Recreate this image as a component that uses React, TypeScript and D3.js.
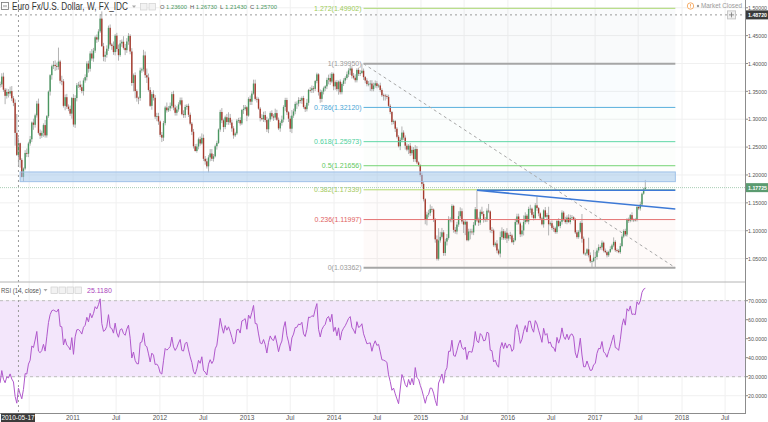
import React from 'react';
import * as d3 from 'd3';

// ---------- DATA ----------
// Weekly bars (Monday-dated). Closes coded as (price - 1) * 10000, grouped by year of the Friday close.
const FIRST_MONDAY = '2009-10-05';
const FIRST_OPEN = 1.469;

const close2009 = [4720, 4905, 5010, 4720, 4850, 4885, 4855, 4965, 4845, 4575, 4340, 4375];
const close2010 = [4320, 4410, 4385, 4140, 3865, 3680, 3625, 3615, 3625, 3625, 3765, 3530, 3420, 3490, 3460, 3505, 3375, 3295, 2755, 2360, 2570, 2270, 1965, 2115, 2395, 2380, 2565, 2640, 2940, 2900, 3070, 3280, 2755, 2705, 2755, 2895, 2710, 3055, 3495, 3790, 3950, 3975, 3955, 3940, 4035, 3690, 3680, 3240, 3395, 3225, 3185, 3100, 3380];
const close2011 = [2905, 3380, 3610, 3620, 3575, 3505, 3695, 3755, 4000, 3905, 4180, 4090, 4230, 4470, 4430, 4575, 4805, 4310, 4120, 4155, 4265, 4640, 4340, 4315, 4205, 4500, 4260, 4150, 4360, 4390, 4280, 4240, 4395, 4495, 4215, 3650, 3790, 3505, 3385, 3380, 3875, 3895, 4145, 3790, 3750, 3525, 3240, 3450, 3385, 3045, 3055, 2960];
const close2012 = [2720, 2670, 2930, 3210, 3160, 3195, 3240, 3450, 3210, 3115, 3175, 3265, 3340, 3090, 3075, 3220, 3240, 3080, 2920, 2775, 2515, 2430, 2510, 2640, 2565, 2665, 2290, 2245, 2155, 2315, 2385, 2290, 2335, 2515, 2575, 2815, 3130, 2980, 2860, 3035, 2950, 3025, 2940, 2835, 2710, 2745, 2975, 2985, 2925, 3165, 3185, 3215];
const close2013 = [3065, 3365, 3315, 3460, 3640, 3365, 3360, 3190, 3020, 3000, 3075, 2985, 2820, 2995, 3110, 3050, 3030, 3110, 2990, 2835, 2935, 2995, 3220, 3345, 3125, 3010, 2830, 3065, 3140, 3275, 3280, 3345, 3335, 3380, 3220, 3180, 3295, 3525, 3520, 3555, 3545, 3685, 3805, 3485, 3365, 3495, 3555, 3590, 3705, 3740, 3675, 3815];
const close2014 = [3590, 3665, 3540, 3675, 3485, 3635, 3695, 3740, 3805, 3875, 3910, 3780, 3745, 3700, 3885, 3815, 3830, 3870, 3755, 3695, 3630, 3635, 3640, 3540, 3605, 3645, 3595, 3605, 3525, 3430, 3425, 3415, 3400, 3240, 3130, 2950, 2965, 2830, 2685, 2515, 2630, 2760, 2670, 2525, 2455, 2525, 2390, 2450, 2285, 2465, 2225, 2180];
const close2015 = [2000, 1840, 1565, 1205, 1290, 1315, 1390, 1380, 1195, 845, 495, 825, 890, 970, 600, 805, 870, 1200, 1200, 1445, 1015, 985, 1110, 1260, 1350, 1165, 1110, 1160, 830, 985, 985, 970, 1105, 1385, 1185, 1145, 1340, 1300, 1195, 1205, 1360, 1345, 1015, 1005, 740, 770, 645, 590, 885, 990, 865, 965];
const close2016 = [860, 920, 915, 795, 830, 1155, 1255, 1130, 935, 1005, 1155, 1270, 1165, 1390, 1395, 1285, 1225, 1455, 1405, 1310, 1220, 1115, 1365, 1250, 1280, 1115, 1135, 1050, 1040, 975, 1175, 1085, 1160, 1325, 1200, 1155, 1235, 1155, 1225, 1240, 1200, 970, 885, 980, 1140, 855, 590, 590, 665, 560, 450, 455, 515];
const close2017 = [530, 645, 705, 700, 785, 640, 615, 560, 620, 670, 735, 800, 650, 640, 615, 725, 895, 995, 930, 1205, 1180, 1280, 1195, 1200, 1195, 1425, 1400, 1470, 1665, 1750, 1772.5];

// Upper / lower wick lengths beyond the body, in units of 10 pips.
const up2009 = [6, 5, 3, 9, 4, 5, 6, 5, 7, 4, 5, 4];
const dn2009 = [5, 3, 6, 4, 8, 4, 5, 6, 5, 3, 4, 6];
const up2010 = [5, 6, 4, 3, 2, 6, 4, 5, 3, 5, 6, 7, 3, 6, 5, 8, 9, 4, 6, 34, 10.3, 1, 3, 2, 5, 8, 3, 6, 2, 7, 3, 5, 9, 6, 4, 3, 9, 2, 2, 2, 3, 7, 8, 6, 25, 3, 9, 4, 5, 6, 4, 6, 2];
const dn2010 = [6, 5, 3, 2, 4, 4, 18, 5, 10, 6, 5, 4, 15, 5, 7, 4, 5, 6, 23, 2, 21.7, 14, 1, 9, 3, 6, 6, 4, 5, 9, 5, 4, 3, 6, 4, 7, 4, 4, 3, 7, 8, 5, 9, 6, 5, 5, 7, 3, 8, 4, 4, 4, 9];
const up2011 = [7, 5, 4, 5, 7, 5, 4, 5, 4, 5, 4, 8, 5, 3, 5, 4, 8, 13, 6, 6, 6, 4, 6, 3, 8, 3, 5, 8, 6, 4, 10, 7, 6, 5, 3, 6, 3, 5, 3, 2, 5, 3, 10, 7, 12, 7, 5, 4, 7, 5, 6, 6];
const dn2011 = [4, 6, 6, 5, 5, 4, 8, 4, 6, 7, 5, 4, 6, 4, 6, 4, 3, 1, 8, 9, 5, 4, 3, 7, 5, 6, 5, 10, 3, 6, 3, 9, 5, 6, 5, 5, 15, 13, 7, 11, 5, 4, 4, 5, 10, 3, 2, 7, 5, 4, 8, 6];
const up2012 = [2, 5, 4, 3, 9, 4, 6, 4, 6, 5, 6, 4, 5, 5, 7, 4, 3, 4, 4, 3, 5, 4, 5, 3, 5, 8, 6, 5, 5, 4, 8, 8, 4, 3, 4, 2, 4, 7, 3, 3, 6, 10, 7, 5, 4, 3, 3, 4, 5, 2, 7, 4];
const dn2012 = [4, 8, 6, 4, 4, 3, 5, 5, 5, 5, 5, 4, 2, 2, 5, 5, 5, 4, 3, 6, 4, 1, 3, 5, 4, 2, 4, 6, 4, 11, 7, 4, 5, 2, 6, 2, 4, 5, 9, 4, 5, 5, 4, 6, 6, 3, 3, 4, 4, 3, 7, 3];
const up2013 = [2, 3, 6, 5, 7, 7, 4, 3, 3, 7, 6, 7, 6, 2, 3, 5, 4, 8, 6, 4, 3, 7, 3, 4, 4, 2, 5, 10, 5, 4, 4, 5, 4, 3, 4, 3, 7, 2, 5, 5, 4, 2, 3, 2, 5, 3, 3, 2, 4, 6, 8, 3];
const dn2013 = [10, 2, 6, 6, 2, 3, 6, 2, 6, 2, 5, 4, 5, 7, 4, 5, 6, 4, 2, 3, 6, 5, 5, 7, 5, 6, 6, 8, 4, 5, 9, 5, 5, 6, 3, 5, 4, 5, 4, 5, 7, 4, 4, 6, 7, 6, 5, 5, 5, 8, 6, 3];
const up2014 = [2, 3, 4, 2, 4, 3, 4, 3, 5, 4, 6, 4, 5, 6, 3, 4, 5, 12.5, 4, 2, 4, 5, 6, 6, 5, 5, 4, 3, 5, 3, 3, 3, 3, 4, 3, 2, 3, 2, 3, 3, 4, 11, 4, 4, 4, 3, 5, 6, 5, 7, 5, 2];
const dn2014 = [7, 6, 4, 10, 4, 4, 4, 6, 3, 5, 8, 5, 3, 4, 4, 4, 4, 2, 5, 5, 4, 4, 13, 4, 4, 4, 4, 3, 4, 3, 9, 8, 4, 3, 4, 5, 4, 6, 3, 2, 7, 4, 4, 7, 3, 8, 5, 4, 5, 5, 3, 3];
const up2015 = [1, 4, 4, 2, 5, 6, 8, 5, 2, 3, 7, 22, 9, 8, 4, 5, 7, 6, 4, 3, 2, 5, 5, 9, 7, 5, 4, 4, 2, 5, 5, 5, 5, 4, 33, 5, 4, 9, 5, 4, 4, 12, 2, 5, 3, 3, 6, 3, 10, 7, 4, 3];
const dn2015 = [3, 5, 4, 9, 11, 5, 5, 5, 4, 6, 3, 3, 4, 3, 5, 5, 7, 3, 5, 5, 5, 4, 5, 4, 4, 4, 15, 19, 2, 2, 14, 4, 5, 2, 3, 6, 4, 3, 5, 4, 5, 3, 5, 5, 3, 4, 5, 3, 7, 5, 3, 3];
const up2016 = [8, 3, 6, 3, 4, 6, 5, 5, 3, 9, 12, 6, 3, 4, 7, 2, 5, 4, 16, 2, 2, 3, 2, 6, 4, 15, 3, 5, 4, 3, 2, 5, 2, 4, 3, 5, 4, 6, 6, 4, 2, 3, 4, 3, 3, 16, 4, 2, 2, 21, 5, 3, 14];
const dn2016 = [8, 4, 7, 2, 5, 2, 5, 2, 5, 4, 9, 4, 2, 5, 7, 5, 4, 3, 5, 5, 3, 2, 6, 2, 4, 20, 3, 4, 6, 3, 3, 2, 4, 5, 3, 3, 4, 2, 4, 3, 2, 3, 3, 3, 3, 7, 2, 4, 4, 4, 3, 10, 2];
const up2017 = [9, 4, 5, 3, 4, 2, 4, 3, 2, 5, 3, 8, 3, 3, 3, 5, 4, 3, 4, 2, 3, 2, 5, 2, 3, 2, 2, 5, 2, 2, 13.8];
const dn2017 = [17.9, 5, 4, 4, 5, 3, 2, 4, 3, 2, 2, 3, 3, 3, 2, 3, 2, 3, 3, 3, 4, 3, 3, 4, 3, 3, 3, 4, 3, 2, 2.1];

// Axis ticks
const priceTicks = [1.05, 1.1, 1.15, 1.2, 1.25, 1.3, 1.35, 1.4, 1.45, 1.5];
const rsiTicks = [20, 30, 40, 50, 60, 70];
const axisYears = [2010, 2011, 2012, 2013, 2014, 2015, 2016, 2017, 2018];

// Fibonacci retracement drawing
const fibRatios = [1.272, 1, 0.786, 0.618, 0.5, 0.382, 0.236, 0];
const fibPrices = [1.49902, 1.3995, 1.3212, 1.25973, 1.21656, 1.17339, 1.11997, 1.03362];
const fibColors = ['#a9d66e', '#a6a6a6', '#5aafdc', '#5fd7a6', '#74d474', '#b2d86c', '#e57373', '#a6a6a6'];
const fibLabelColors = ['#9ccb58', '#9a9a9a', '#4aa6d6', '#4ccf9c', '#62c862', '#a3c95a', '#e06262', '#9a9a9a'];
const fibZoneColors = ['#9aa7bf', '#5aafdc', '#5fd7a6', '#74d474', '#b2d86c', '#e57373', '#e5a080'];
const fibZoneOpacity = [0.06, 0.035, 0.025, 0.025, 0.025, 0.025, 0.05];
const fibDates = ['2014-05-05', '2017-12-04'];

// Other drawings
const zoneDates = ['2010-05-24', '2017-12-04'];
const zonePrices = [1.2054, 1.188];
const trendDates = ['2015-08-24', '2017-12-04'];
const trendFlatPrice = 1.1725;
const trendFallPrices = [1.1725, 1.139];

// Header / crosshair
const crossDate = '2010-05-17';
const crossPrice = 1.4872;
const crossRsiText = '25.1180';

// ---------- LAYOUT ----------
const W = 768;
const H = 422;
const PR = 745; // plot right edge
const MAIN_B = 281;
const RSI_T = 283;
const RSI_B = 413;
const FONT = "'Liberation Sans', Arial, sans-serif";

const utc = (s: string) => new Date(s + 'T00:00:00Z');

function computeRsi(c: number[], len: number) {
  const out: (number | null)[] = c.map(() => null);
  let au = 0;
  let ad = 0;
  for (let i = 1; i < c.length; i++) {
    const ch = c[i] - c[i - 1];
    const u = Math.max(ch, 0);
    const d = Math.max(-ch, 0);
    if (i <= len) {
      au += u / len;
      ad += d / len;
      if (i === len) out[i] = ad === 0 ? 100 : 100 - 100 / (1 + au / ad);
    } else {
      au = (au * (len - 1) + u) / len;
      ad = (ad * (len - 1) + d) / len;
      out[i] = ad === 0 ? 100 : 100 - 100 / (1 + au / ad);
    }
  }
  return out;
}

export default function App() {
  const codes = [...close2009, ...close2010, ...close2011, ...close2012, ...close2013, ...close2014, ...close2015, ...close2016, ...close2017];
  const ups = [...up2009, ...up2010, ...up2011, ...up2012, ...up2013, ...up2014, ...up2015, ...up2016, ...up2017];
  const dns = [...dn2009, ...dn2010, ...dn2011, ...dn2012, ...dn2013, ...dn2014, ...dn2015, ...dn2016, ...dn2017];
  const closes = codes.map((v) => 1 + v / 10000);
  const t0 = utc(FIRST_MONDAY).getTime();
  const bars = closes.map((c, i) => {
    const o = i === 0 ? FIRST_OPEN : closes[i - 1];
    const hi = Math.max(o, c) + (ups[i] ?? 4) * 0.001;
    const lo = Math.min(o, c) - (dns[i] ?? 4) * 0.001;
    return { date: new Date(t0 + i * 7 * 86400000), o, h: hi, l: lo, c };
  });
  const rsi = computeRsi(closes, 14);

  const x = d3.scaleUtc().domain([utc('2011-01-01'), utc('2018-01-01')]).range([73, 682]);
  const yP = d3.scaleLinear().domain([1.2, 1.5]).range([174.96, 7.75]);
  const yR = d3.scaleLinear().domain([30, 70]).range([376.7, 300.7]);

  const timeTicks: { d: Date; label: string }[] = [];
  axisYears.forEach((yr) => {
    timeTicks.push({ d: utc(`${yr}-01-01`), label: String(yr) });
    timeTicks.push({ d: utc(`${yr}-07-01`), label: 'Jul' });
  });
  const visTicks = timeTicks.filter((t) => x(t.d) > 0 && x(t.d) < PR);
  const labelTicks = visTicks.filter((t) => x(t.d) > 42);

  const rsiLine = d3
    .line<{ d: Date; v: number | null }>()
    .defined((p) => p.v !== null)
    .x((p) => x(p.d))
    .y((p) => yR(p.v as number));
  const rsiPath = rsiLine(bars.map((b, i) => ({ d: b.date, v: rsi[i] }))) || '';

  const fx0 = x(utc(fibDates[0]));
  const fx1 = x(utc(fibDates[1]));
  const last = bars[bars.length - 1];
  const crossBar = bars.find((b) => b.date.getTime() === utc(crossDate).getTime()) || bars[0];
  const cx = x(utc(crossDate));
  const cy = yP(crossPrice);

  const upCol = '#4a9761';
  const dnCol = '#a6392c';
  const gridCol = '#f0f0f0';
  const axisTxt = '#555';

  const ohlc = [
    { k: 'O', v: crossBar.o, xx: 160 },
    { k: 'H', v: crossBar.h, xx: 190 },
    { k: 'L', v: crossBar.l, xx: 220 },
    { k: 'C', v: crossBar.c, xx: 250 },
  ];

  const axisLabel = (key: string, y: number, txt: string, fill: string, bold = false) => (
    <text key={key} x={748} y={y + 2.2} fontSize={5.6} fill={fill} fontWeight={bold ? 'bold' : 'normal'} textLength={19} lengthAdjust="spacingAndGlyphs">
      {txt}
    </text>
  );

  const caret = (cx0: number, cy0: number) => (
    <path d={`M${cx0 - 2},${cy0 - 1} L${cx0 + 2},${cy0 - 1} L${cx0},${cy0 + 1.5} Z`} fill="#aaa" />
  );

  return (
    <svg width={W} height={H} style={{ position: 'absolute', left: 0, top: 0, background: '#fff' }} fontFamily={FONT}>
      <defs>
        <clipPath id="mainClip">
          <rect x={0} y={0} width={PR} height={MAIN_B} />
        </clipPath>
        <clipPath id="rsiClip">
          <rect x={0} y={RSI_T} width={PR} height={RSI_B - RSI_T} />
        </clipPath>
      </defs>
      <rect x={0} y={0} width={W} height={H} fill="#fff" />

      {/* grid */}
      {visTicks.map((t, i) => (
        <line key={'vg' + i} x1={x(t.d)} x2={x(t.d)} y1={0} y2={RSI_B} stroke={gridCol} strokeWidth={1} />
      ))}
      {priceTicks.map((p) => (
        <line key={'hg' + p} x1={0} x2={PR} y1={yP(p)} y2={yP(p)} stroke={gridCol} />
      ))}
      {rsiTicks.map((r) => (
        <line key={'rg' + r} x1={0} x2={PR} y1={yR(r)} y2={yR(r)} stroke={gridCol} />
      ))}

      {/* RSI band */}
      <rect x={0} y={yR(70)} width={PR} height={yR(30) - yR(70)} fill="#f3e6fb" />
      <line x1={0} x2={PR} y1={yR(70)} y2={yR(70)} stroke="#bdbdbd" strokeDasharray="3,3" />
      <line x1={0} x2={PR} y1={yR(30)} y2={yR(30)} stroke="#bdbdbd" strokeDasharray="3,3" />

      <g clipPath="url(#mainClip)">
        {/* fib zones */}
        {fibZoneColors.map((c, i) => (
          <rect key={'fz' + i} x={fx0} width={fx1 - fx0} y={yP(fibPrices[i])} height={yP(fibPrices[i + 1]) - yP(fibPrices[i])} fill={c} opacity={fibZoneOpacity[i]} />
        ))}

        {/* candles */}
        {bars.map((b, i) => {
          const bx = x(b.date);
          if (bx < -3 || bx > PR) return null;
          const up = b.c >= b.o;
          const top = yP(Math.max(b.o, b.c));
          const bot = yP(Math.min(b.o, b.c));
          return (
            <g key={'c' + i}>
              <line x1={bx} x2={bx} y1={yP(b.h)} y2={yP(b.l)} stroke="#b3b3b3" strokeWidth={1} />
              <rect x={bx - 0.7} y={top} width={1.4} height={Math.max(bot - top, 0.8)} fill={up ? upCol : dnCol} />
            </g>
          );
        })}

        {/* support zone */}
        <rect x={x(utc(zoneDates[0]))} y={yP(zonePrices[0])} width={x(utc(zoneDates[1])) - x(utc(zoneDates[0]))} height={yP(zonePrices[1]) - yP(zonePrices[0])} fill="#9ec3ea" fillOpacity={0.5} stroke="#9fc2e8" strokeWidth={1} />

        {/* fib lines */}
        {fibPrices.map((p, i) => (
          <g key={'fl' + i}>
            <line x1={fx0} x2={fx1} y1={yP(p)} y2={yP(p)} stroke={fibColors[i]} strokeWidth={fibRatios[i] === 1 || fibRatios[i] === 0 ? 2 : 1} />
            <text x={fx0 - 2} y={yP(p) + 2.5} textAnchor="end" fontSize={7} fill={fibLabelColors[i]}>
              {`${fibRatios[i]}(${p.toFixed(5)})`}
            </text>
          </g>
        ))}
        <line x1={fx0} y1={yP(fibPrices[1])} x2={fx1} y2={yP(fibPrices[7])} stroke="#a8a8a8" strokeDasharray="3,3" strokeWidth={1} />

        {/* trend lines */}
        <line x1={x(utc(trendDates[0]))} x2={x(utc(trendDates[1]))} y1={yP(trendFlatPrice)} y2={yP(trendFlatPrice)} stroke="#3d79d6" strokeWidth={1.6} />
        <line x1={x(utc(trendDates[0]))} x2={x(utc(trendDates[1]))} y1={yP(trendFallPrices[0])} y2={yP(trendFallPrices[1])} stroke="#3d79d6" strokeWidth={1.6} />

        {/* last price line */}
        <line x1={0} x2={PR} y1={yP(last.c)} y2={yP(last.c)} stroke="#a9cdb5" strokeDasharray="1,1" />

        {/* crosshair horizontal */}
        <line x1={0} x2={PR} y1={cy} y2={cy} stroke="#9a9a9a" strokeDasharray="2,3" />
      </g>

      {/* RSI line */}
      <g clipPath="url(#rsiClip)">
        <path d={rsiPath} fill="none" stroke="#b058cc" strokeWidth={1} />
      </g>

      {/* crosshair vertical */}
      <line x1={cx} x2={cx} y1={0} y2={RSI_B} stroke="#9a9a9a" strokeDasharray="2,3" />

      {/* pane borders */}
      <line x1={0} x2={PR} y1={282} y2={282} stroke="#b4b4b4" strokeWidth={1} />
      <line x1={0} x2={PR} y1={RSI_B + 0.5} y2={RSI_B + 0.5} stroke="#8c8c8c" strokeWidth={1} />
      <line x1={PR + 0.5} x2={PR + 0.5} y1={0} y2={RSI_B + 1} stroke="#8c8c8c" strokeWidth={1} />

      {/* price axis */}
      {priceTicks.map((p) => (
        <line key={'ptk' + p} x1={PR + 1} x2={PR + 3} y1={yP(p)} y2={yP(p)} stroke="#8c8c8c" />
      ))}
      {priceTicks.map((p) => axisLabel('pt' + p, yP(p), p.toFixed(5), axisTxt))}
      {rsiTicks.map((r) => (
        <line key={'rtk' + r} x1={PR + 1} x2={PR + 3} y1={yR(r)} y2={yR(r)} stroke="#8c8c8c" />
      ))}
      {rsiTicks.map((r) => axisLabel('rt' + r, yR(r), r.toFixed(4), axisTxt))}

      {/* crosshair price label */}
      <rect x={727.5} y={cy - 4} width={8} height={8} fill="#f0f0f0" stroke="#c8c8c8" />
      <path d={`M${729},${cy} L${734},${cy} M${731.5},${cy - 2.5} L${731.5},${cy + 2.5}`} stroke="#777" strokeWidth={0.8} />
      <rect x={PR + 1} y={cy - 4.5} width={W - PR} height={9} fill="#3b3b3b" />
      {axisLabel('cp', cy, crossPrice.toFixed(5), '#fff', true)}
      {/* last price label */}
      <rect x={PR + 1} y={yP(last.c) - 4.5} width={W - PR} height={9} fill="#5b9b70" />
      {axisLabel('lp', yP(last.c), last.c.toFixed(5), '#fff', true)}

      {/* time axis */}
      {labelTicks.map((t, i) => (
        <text key={'tl' + i} x={x(t.d)} y={420} fontSize={6.5} fill={axisTxt} textAnchor="middle">
          {t.label}
        </text>
      ))}
      <rect x={1} y={413.5} width={34} height={8.5} fill="#3b3b3b" />
      <text x={18} y={420.3} fontSize={6.5} fill="#fff" textAnchor="middle">{crossDate}</text>

      {/* header */}
      <rect x={1.5} y={2.5} width={7} height={7} fill="none" stroke="#777" strokeWidth={0.8} />
      <line x1={3} x2={7} y1={6} y2={6} stroke="#777" strokeWidth={0.8} />
      <text x={12} y={10} fontSize={10} fill="#333" textLength={116} lengthAdjust="spacingAndGlyphs">
        Euro Fx/U.S. Dollar, W, FX_IDC
      </text>
      {caret(134, 6.5)}
      <rect x={140.5} y={3.5} width={6.5} height={6.5} fill="#f2f2f2" stroke="#d0d0d0" strokeWidth={0.7} />
      <rect x={149} y={3.5} width={6.5} height={6.5} fill="#f2f2f2" stroke="#d0d0d0" strokeWidth={0.7} />
      {ohlc.map((q) => (
        <text key={q.k} x={q.xx} y={9.2} fontSize={6.2} textLength={27} lengthAdjust="spacingAndGlyphs">
          <tspan fill="#555">{q.k} </tspan>
          <tspan fill="#4b9862">{q.v.toFixed(5)}</tspan>
        </text>
      ))}

      {/* market closed */}
      <circle cx={690.5} cy={6} r={3.2} fill="#fff" stroke="#f5a65b" strokeWidth={0.9} />
      <path d={`M690.5,4 L690.5,6.6 M690.5,7.4 L690.5,8.1`} stroke="#f5a65b" strokeWidth={0.9} />
      <circle cx={698} cy={6} r={1.2} fill="#999" />
      <text x={701} y={8.4} fontSize={6.8} fill="#9a9a9a" textLength={41} lengthAdjust="spacingAndGlyphs">Market Closed</text>

      {/* RSI header */}
      <text x={1} y={292.5} fontSize={7} fill="#555" textLength={40} lengthAdjust="spacingAndGlyphs">RSI (14, close)</text>
      {caret(45.5, 290)}
      {[0, 1, 2, 3].map((k) => (
        <rect key={'ri' + k} x={51 + k * 8} y={287} width={6.5} height={6.5} fill="#f2f2f2" stroke="#d0d0d0" strokeWidth={0.7} />
      ))}
      <text x={87} y={292.5} fontSize={7} fill="#ab47bc">{crossRsiText}</text>
    </svg>
  );
}
